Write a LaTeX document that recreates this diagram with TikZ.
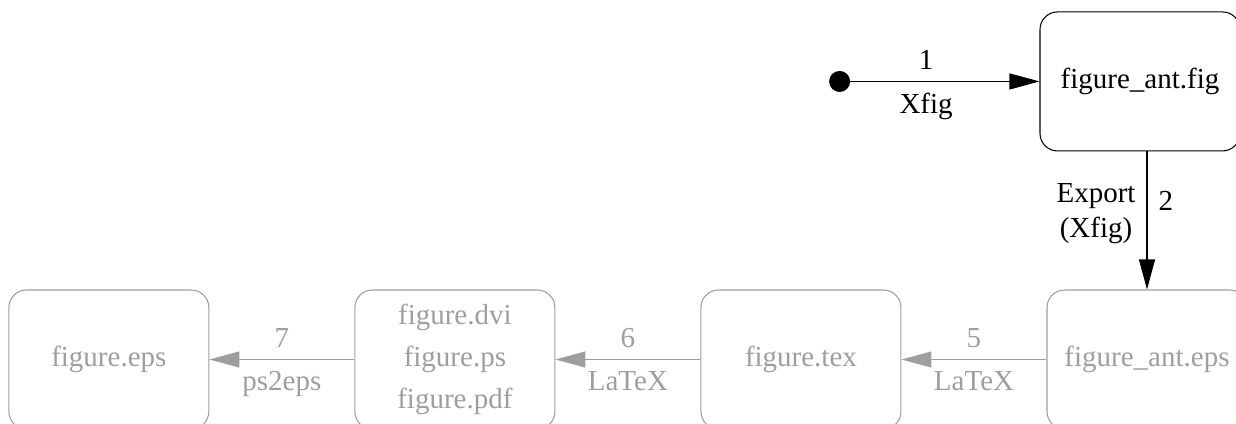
\documentclass[tikz,border=0pt]{standalone}
\usepackage{fontspec}
\setmainfont{Liberation Serif}
\usepackage{xcolor}
\usetikzlibrary{arrows.meta,positioning}
\definecolor{fadegray}{RGB}{160,157,157}

\begin{document}
\begin{tikzpicture}[
        node distance=2.9cm,
        every node/.style={font=\fontsize{16.5}{24}\selectfont},
        file/.style={rectangle, rounded corners=0.35cm, draw=black, line width=0.6pt, minimum width=4cm, minimum height=2.78cm, align=center},
        oldfile/.style={file, draw=fadegray, text=fadegray},
        startdot/.style={circle, fill=black, inner sep=0pt, minimum size=0.42cm},
        lbl/.style={inner sep=0.22cm},
        arrow/.style={line width=0.6pt, -{Triangle[length=0.6cm, width=0.32cm]}},
        oldarrow/.style={arrow, draw=fadegray, text=fadegray},
    ]
    \useasboundingbox (0,0) rectangle (24.72,-8.46);

    % Files made from the export (bottom row, right to left)
    \node[oldfile] (anteps) at (22.94,-7.19) {figure\_ant.eps};
    \node[oldfile, left=of anteps] (tex) {figure.tex};
    \node[oldfile, left=of tex] (dvi) {figure.dvi\\figure.ps\\figure.pdf};
    \node[oldfile, left=of dvi] (eps) {figure.eps};

    % Xfig source file
    \node[file, above=2.76cm of anteps, xshift=-0.14cm] (antfig) {figure\_ant.fig};
    \node[startdot, left=3.78cm of antfig] (init) {};

    % Steps
    \draw[arrow] (init) -- node[lbl, pos=0.4, above] {1} node[lbl, pos=0.4, below] {Xfig} (antfig);
    \draw[arrow] (antfig.south -| anteps.north) -- node[lbl, pos=0.45, left, align=center] {Export\\[-4pt](Xfig)} node[lbl, pos=0.36, right] {2} (anteps.north);

    \draw[oldarrow] (anteps) -- node[lbl, above] {5} node[lbl, below] {LaTeX} (tex);
    \draw[oldarrow] (tex) -- node[lbl, above] {6} node[lbl, below] {LaTeX} (dvi);
    \draw[oldarrow] (dvi) -- node[lbl, above] {7} node[lbl, below] {ps2eps} (eps);

\end{tikzpicture}
\end{document}
